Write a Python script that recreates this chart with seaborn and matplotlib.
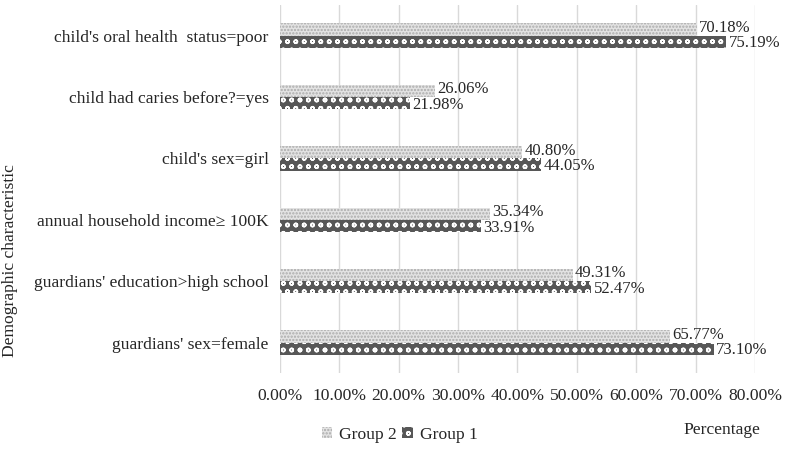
import matplotlib
matplotlib.use("Agg")
import matplotlib.pyplot as plt
from matplotlib.patches import Patch
import pandas as pd
import seaborn as sns

# 데이터
categories = [
    "child's oral health  status=poor",
    "child had caries before?=yes",
    "child's sex=girl",
    "annual household income\u2265 100K",
    "guardians' education>high school",
    "guardians' sex=female",
]
group2 = [70.18, 26.06, 40.80, 35.34, 49.31, 65.77]
group1 = [75.19, 21.98, 44.05, 33.91, 52.47, 73.10]
xticks = [0, 10, 20, 30, 40, 50, 60, 70, 80]

df = pd.DataFrame({
    "category": categories * 2,
    "value": group2 + group1,
    "group": ["Group 2"] * len(categories) + ["Group 1"] * len(categories),
})

sns.set_style("white")
plt.rcParams["font.family"] = ["Liberation Serif", "DejaVu Serif"]
plt.rcParams["hatch.linewidth"] = 1.1

FS = 12.6
TXT = "#262626"

fig = plt.figure(figsize=(7.88, 4.54), dpi=100)
ax = fig.add_axes([0.3553, 0.178, 0.6027, 0.811])

sns.barplot(
    data=df, x="value", y="category", hue="group",
    hue_order=["Group 2", "Group 1"], order=categories,
    orient="h", width=0.4, gap=0, ax=ax, legend=False,
)

styles = {
    "Group 2": dict(facecolor="#e3e3e3", edgecolor="#ababab", hatch="....."),
    "Group 1": dict(facecolor="#575757", edgecolor="#ffffff", hatch="oo"),
}
# 데이터 레이블: 두 막대 레이블이 겹치지 않도록 살짝 위/아래로
offsets = {"Group 2": 1.2, "Group 1": -1.2}
for cont, name in zip(ax.containers, ["Group 2", "Group 1"]):
    for bar, v in zip(cont, cont.datavalues):
        bar.set_facecolor(styles[name]["facecolor"])
        bar.set_edgecolor(styles[name]["edgecolor"])
        bar.set_hatch(styles[name]["hatch"])
        bar.set_linewidth(0)
        ax.annotate(
            f"{v:.2f}%",
            (bar.get_width(), bar.get_y() + bar.get_height() / 2),
            xytext=(1.5, offsets[name]), textcoords="offset points",
            ha="left", va="center", fontsize=12, color=TXT,
        )

ax.set_xlim(0, 80)
ax.set_xticks(xticks)
ax.set_xticklabels([f"{t:.2f}%" for t in xticks], fontsize=FS, color=TXT)
ax.tick_params(axis="y", labelsize=FS, labelcolor=TXT, pad=8, length=0)
ax.tick_params(axis="x", pad=11, length=0)
ax.grid(axis="x", color="#d9d9d9", linewidth=1)
ax.set_axisbelow(True)
for s in ax.spines.values():
    s.set_visible(False)
ax.set_ylabel("")
ax.set_xlabel("")

fig.text(0.965, 0.053, "Percentage", ha="right", va="center",
         fontsize=FS, color=TXT)
fig.text(0.013, 0.427, "Demographic characteristic", rotation=90,
         ha="center", va="center", fontsize=FS, color=TXT)

handles = [Patch(**styles["Group 2"], linewidth=0), Patch(**styles["Group 1"], linewidth=0)]
fig.legend(handles, ["Group 2", "Group 1"], loc="center left",
           bbox_to_anchor=(0.408, 0.042), ncol=2, frameon=False, fontsize=FS,
           handlelength=0.6, handleheight=0.6, handletextpad=0.4,
           columnspacing=0.3, labelcolor=TXT, borderaxespad=0, borderpad=0)

fig.savefig("out.png", dpi=100)
